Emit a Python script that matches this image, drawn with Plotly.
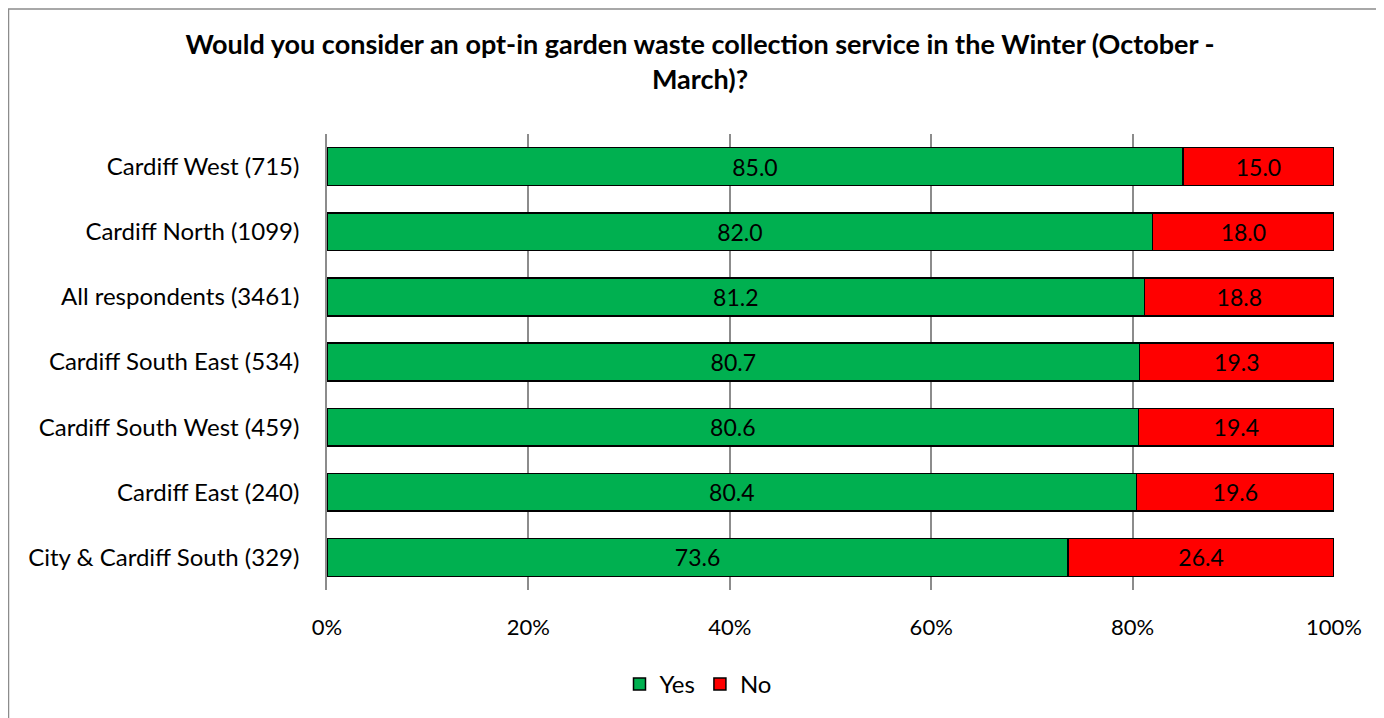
import plotly.graph_objects as go

categories = ["Cardiff West (715)", "Cardiff North (1099)", "All respondents (3461)",
              "Cardiff South East (534)", "Cardiff South West (459)", "Cardiff East (240)",
              "City & Cardiff South (329)"]
yes_values = [85.0, 82.0, 81.2, 80.7, 80.6, 80.4, 73.6]
no_values = [15.0, 18.0, 18.8, 19.3, 19.4, 19.6, 26.4]
tick_vals = [0, 20, 40, 60, 80, 100]
tick_text = ["0%", "20%", "40%", "60%", "80%", "100%"]

FONT = "Lato, Calibri, Carlito, sans-serif"
W, H = 1384, 718
L, T, PW, PH = 319, 126, 1007, 456
R, B = W - L - PW, H - T - PH

fig = go.Figure()
for name, vals, color in [("Yes", yes_values, "#00B050"), ("No", no_values, "#FF0000")]:
    fig.add_trace(go.Bar(
        y=categories, x=vals, name=name, orientation="h",
        marker=dict(color=color, line=dict(color="black", width=1.5)),
        text=[f"{v:.1f}" for v in vals], textposition="inside",
        insidetextanchor="middle", textangle=0,
        textfont=dict(color="black", size=23, family=FONT),
    ))

fig.update_layout(
    barmode="stack", bargap=0.42,
    width=W, height=H, autosize=False,
    margin=dict(l=L, r=R, t=T, b=B, autoexpand=False),
    paper_bgcolor="white", plot_bgcolor="white",
    font=dict(family=FONT, size=22, color="black"),
    title=dict(text="<b>Would you consider an opt-in garden waste collection service in the Winter (October -<br>March)?</b>",
               x=(692 - L) / PW, xref="paper", xanchor="center",
               y=1 - 46 / H, yref="container", yanchor="top",
               font=dict(size=27, family=FONT, color="black")),
    showlegend=True,
    legend=dict(orientation="h", x=(690 - L) / PW, xanchor="center",
                y=-(654 - (T + PH)) / PH, yanchor="top", font=dict(size=24, family=FONT),
                traceorder="normal", itemwidth=30),
)

fig.update_xaxes(range=[0, 100], tickvals=tick_vals, ticktext=tick_text,
                 showgrid=True, gridcolor="#8C8C8C", gridwidth=1.5,
                 zeroline=False, showline=False, ticks="", automargin=False,
                 tickfont=dict(size=22, family=FONT), ticklabelstandoff=22)
fig.update_yaxes(autorange="reversed", showgrid=False, showline=True,
                 linecolor="#8C8C8C", linewidth=1.5, ticks="", automargin=False,
                 tickfont=dict(size=24, family=FONT), ticklabelstandoff=21)

fig.add_shape(type="rect", xref="paper", yref="paper",
              x0=(0.5 - L) / PW, x1=(W + 20 - L) / PW,
              y0=-(H + 20 - (T + PH)) / PH, y1=((T + PH) - 1) / PH,
              line=dict(color="#8C8C8C", width=1.5), fillcolor="rgba(0,0,0,0)", layer="below")

fig.write_html("out.html")
